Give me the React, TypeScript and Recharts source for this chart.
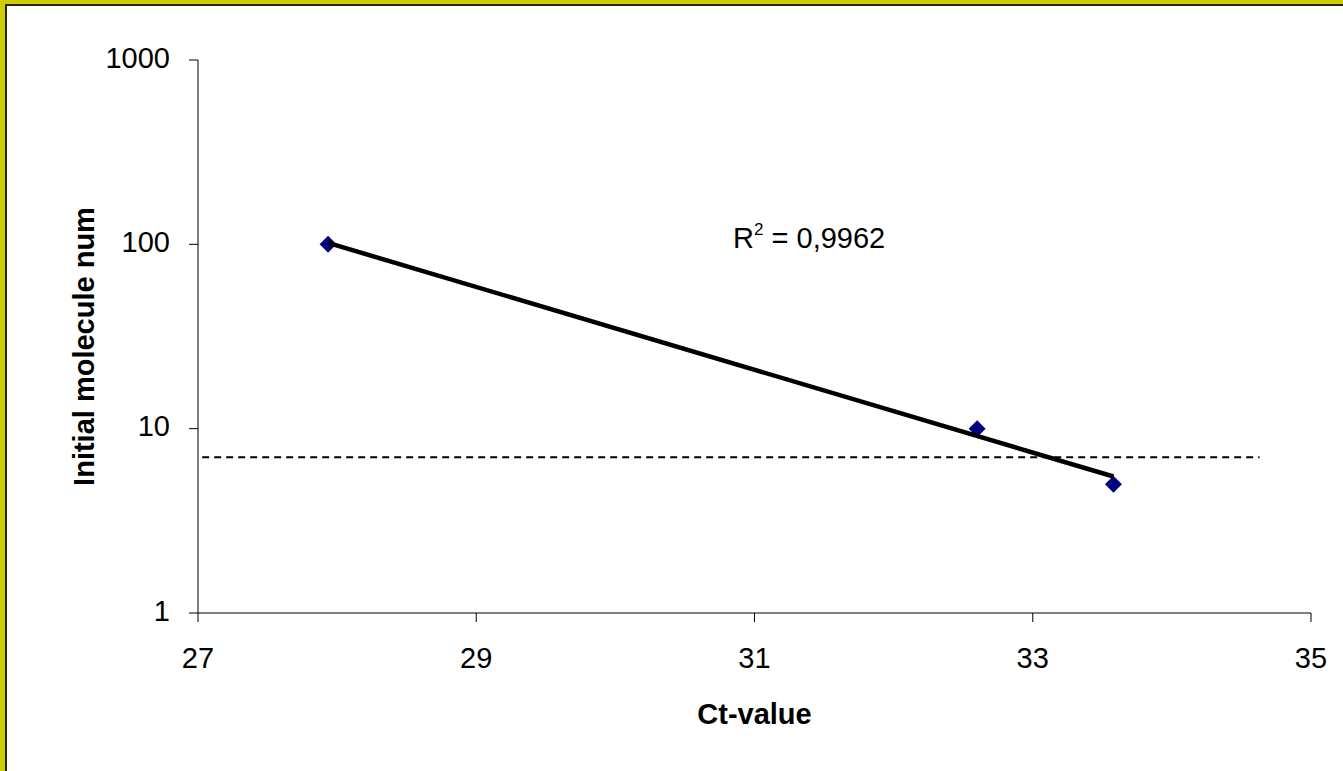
import React from "react";
import {
  ComposedChart,
  XAxis,
  YAxis,
  Scatter,
  ReferenceLine,
  Label,
} from "recharts";

// ---- data ----
const ctValues = [27.935, 32.6, 33.58];
const moleculeNums = [100, 10, 5];

const trendCt = [27.935, 33.58];
const trendNums = [101.8, 5.5];

const thresholdCt = [27.03, 34.63];
const thresholdNum = 7;

const xTicks = [27, 29, 31, 33, 35];
const yTicks = [1, 10, 100, 1000];

const r2Text = { prefix: "R", sup: "2", rest: " = 0,9962" };
const r2Anchor = { x: 30.846, y: 95.5 };

const xTitle = "Ct-value";
const yTitle = "Initial molecule num";

// ---- derived tables ----
const points = ctValues.map((x, i) => ({ x, y: moleculeNums[i] }));
const trend = trendCt.map((x, i) => ({ x, y: trendNums[i] }));
const r2Data = [r2Anchor];

const FONT = "'Liberation Sans', Arial, Helvetica, sans-serif";

const Diamond = (props: any) => {
  const { cx, cy } = props;
  if (cx == null || cy == null) return <g />;
  const h = 8.5;
  return (
    <polygon
      points={`${cx},${cy - h} ${cx + h},${cy} ${cx},${cy + h} ${cx - h},${cy}`}
      fill="#000080"
    />
  );
};

const R2Shape = (props: any) => {
  const { cx, cy } = props;
  if (cx == null || cy == null) return <g />;
  return (
    <text x={cx} y={cy} fontFamily={FONT} fontSize={29} fill="#000">
      {r2Text.prefix}
      <tspan dy={-13} fontSize={17}>
        {r2Text.sup}
      </tspan>
      <tspan dy={13}>{r2Text.rest}</tspan>
    </text>
  );
};

const XTitle = (props: any) => {
  const vb = props.viewBox;
  if (!vb) return null;
  return (
    <text
      x={vb.x + vb.width / 2}
      y={vb.y + 111}
      textAnchor="middle"
      fontFamily={FONT}
      fontWeight="bold"
      fontSize={29}
      fill="#000"
    >
      {xTitle}
    </text>
  );
};

const YTitle = (props: any) => {
  const vb = props.viewBox;
  if (!vb) return null;
  const x = vb.x + 94;
  const y = vb.y + vb.height / 2 + 10;
  return (
    <text
      x={x}
      y={y}
      transform={`rotate(-90, ${x}, ${y})`}
      textAnchor="middle"
      fontFamily={FONT}
      fontWeight="bold"
      fontSize={29}
      fill="#000"
    >
      {yTitle}
    </text>
  );
};

const YTick = (props: any) => {
  const { x, y, payload } = props;
  return (
    <text
      x={x}
      y={y}
      dy={7.5}
      textAnchor="end"
      fontFamily={FONT}
      fontSize={29}
      fill="#000"
    >
      {payload.value}
    </text>
  );
};

const tickStyle = { fill: "#000", fontSize: 29, fontFamily: FONT };

export default function App() {
  return (
    <div
      style={{
        position: "absolute",
        left: 0,
        top: 0,
        width: 1343,
        height: 771,
        overflow: "hidden",
        background: "#CCCC00",
      }}
    >
      <div
        style={{
          position: "absolute",
          left: 5,
          top: 4,
          width: 1400,
          height: 820,
          background: "#ffffff",
          borderLeft: "2px solid #262600",
          borderTop: "2px solid #262600",
        }}
      />
      <div style={{ position: "absolute", left: 0, top: 0 }}>
        <ComposedChart
          width={1343}
          height={771}
          margin={{ top: 60, right: 32, bottom: 0, left: 0 }}
        >
          <XAxis
            type="number"
            dataKey="x"
            domain={[27, 35]}
            ticks={xTicks}
            allowDataOverflow
            height={158}
            stroke="#000"
            tickSize={9}
            tickMargin={25}
            tick={tickStyle}
            tickLine={{ stroke: "#000" }}
            axisLine={{ stroke: "#000" }}
          >
            <Label content={<XTitle />} />
          </XAxis>
          <YAxis
            type="number"
            dataKey="y"
            scale="log"
            domain={[1, 1000]}
            ticks={yTicks}
            allowDataOverflow
            width={198}
            stroke="#000"
            tickSize={9}
            tickMargin={19}
            tick={<YTick />}
            tickLine={{ stroke: "#000" }}
            axisLine={{ stroke: "#000" }}
          >
            <Label content={<YTitle />} />
          </YAxis>
          <ReferenceLine
            segment={[
              { x: thresholdCt[0], y: thresholdNum },
              { x: thresholdCt[1], y: thresholdNum },
            ]}
            stroke="#000"
            strokeWidth={2}
            strokeDasharray="7 5"
            ifOverflow="visible"
          />
          <Scatter
            data={points}
            shape={<Diamond />}
            isAnimationActive={false}
          />
          <Scatter
            data={trend}
            shape={() => <g />}
            line={{ stroke: "#000", strokeWidth: 4.5 }}
            fill="none"
            isAnimationActive={false}
          />
          <Scatter
            data={r2Data}
            shape={<R2Shape />}
            isAnimationActive={false}
          />
        </ComposedChart>
      </div>
    </div>
  );
}
